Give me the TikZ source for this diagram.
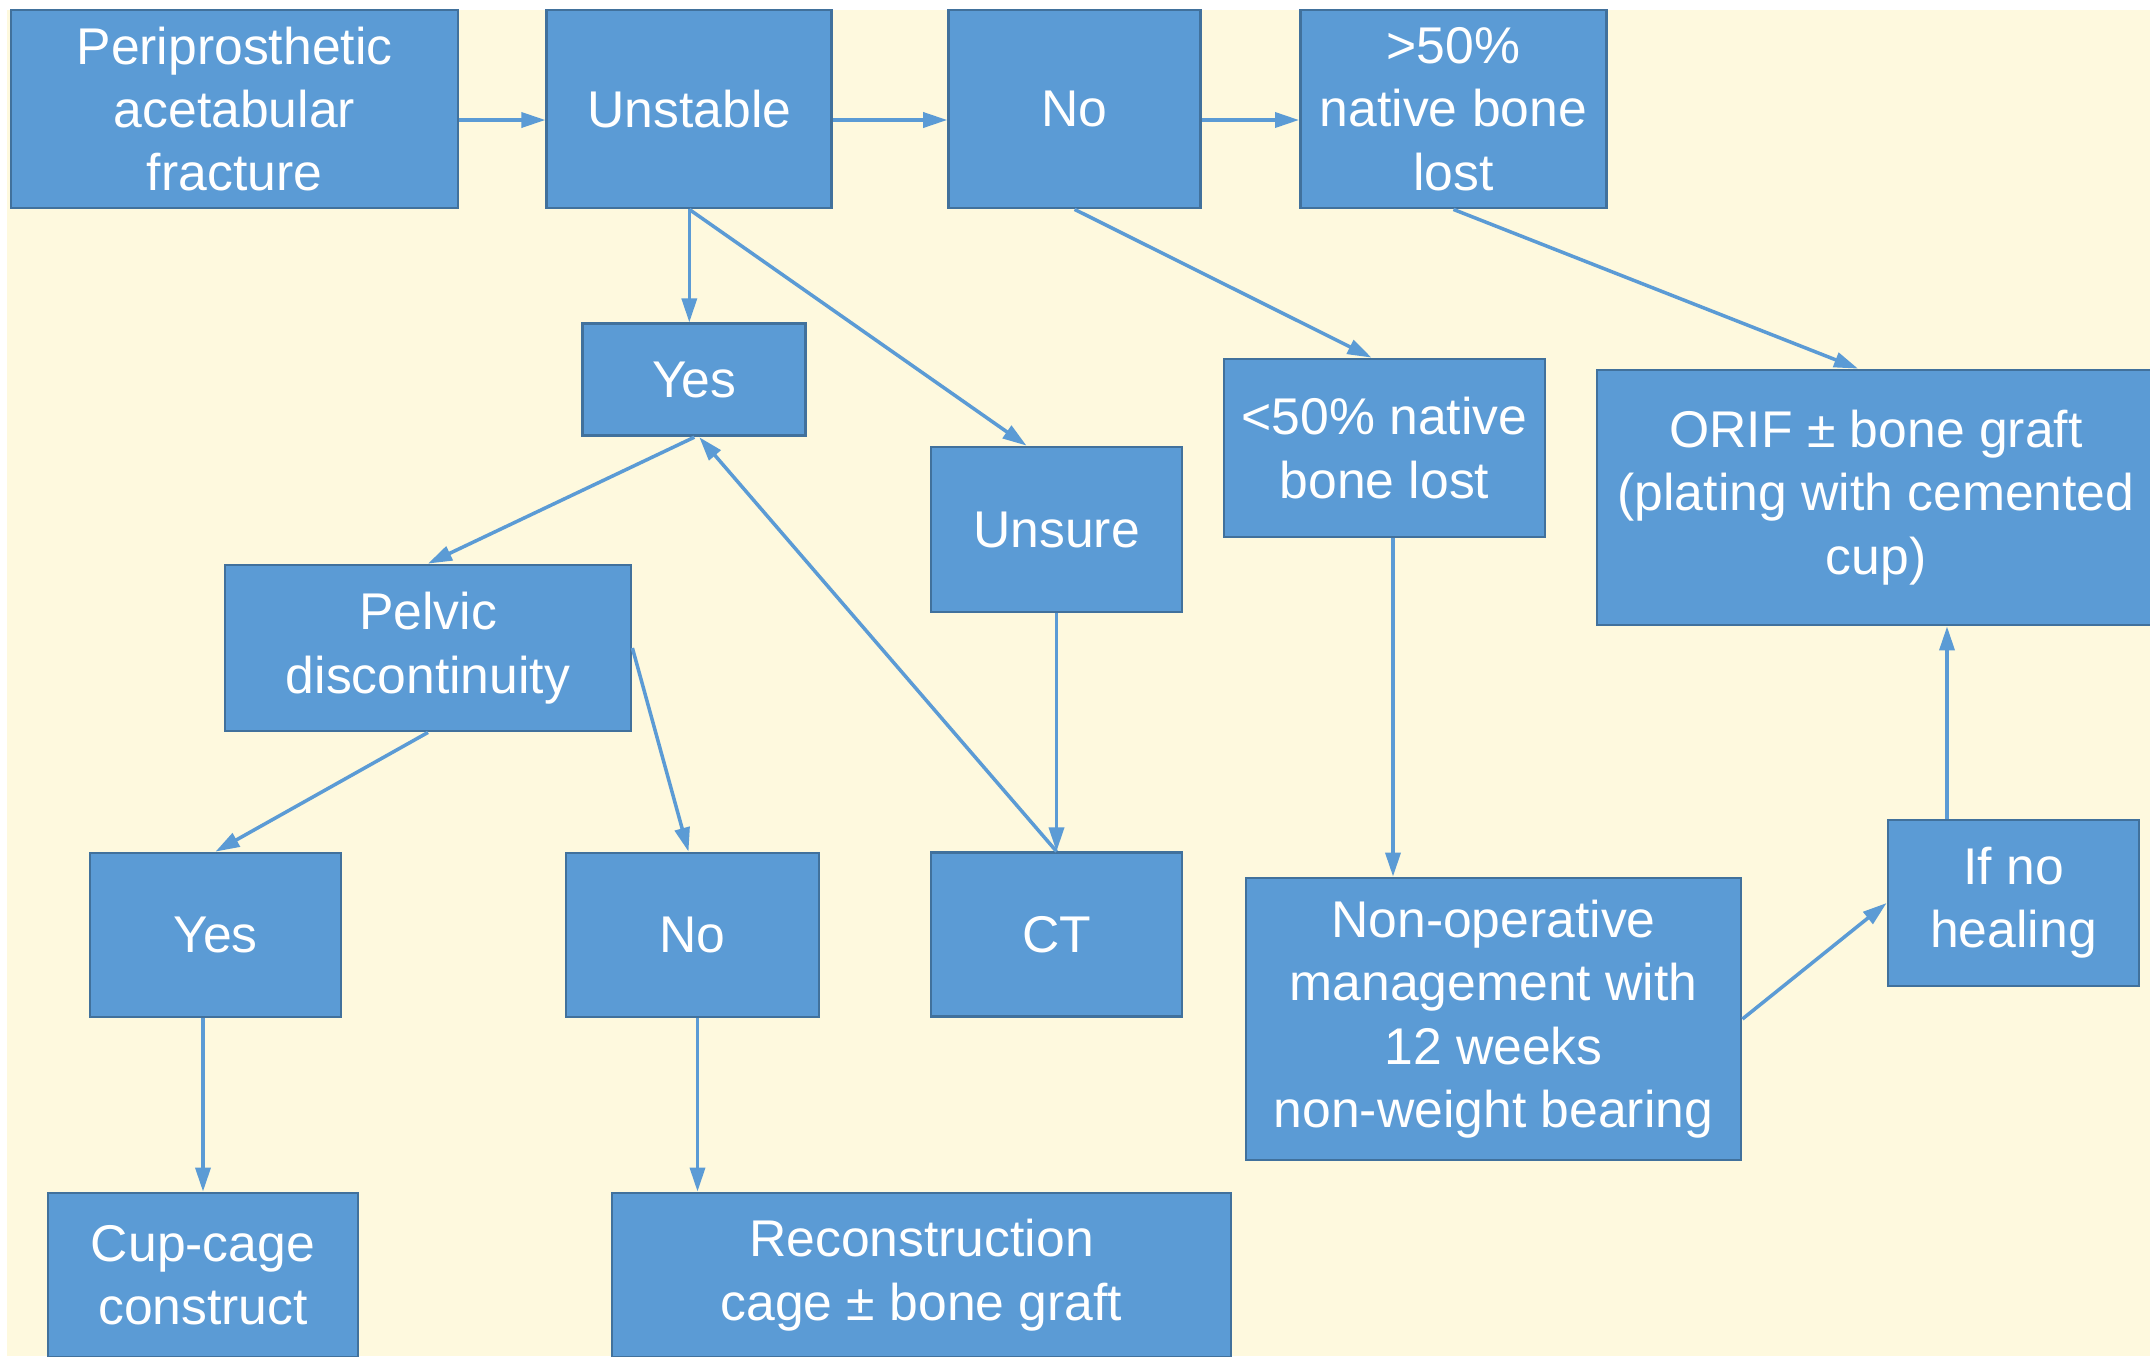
\documentclass[tikz,border=0pt]{standalone}
\usepackage{fontspec}
\setmainfont{Liberation Sans}
\usetikzlibrary{arrows.meta, positioning}
\definecolor{boxblue}{RGB}{91, 155, 213}
\definecolor{boxedge}{RGB}{65, 113, 156}
\definecolor{creambg}{RGB}{254, 249, 222}

\begin{document}
\begin{tikzpicture}[
  stage/.style={draw=boxedge, fill=boxblue, line width=0.8pt, text=white,
                align=center, inner sep=2pt, font=\fontsize{14.7}{18}\selectfont},
  flow/.style={-{Triangle[length=0.24cm, width=0.15cm]}, line width=1pt,
               color=boxblue}
]
  \useasboundingbox (0,0) rectangle (21.5,-13.56);
  \clip (0,0) rectangle (21.5,-13.56);
  \fill[white] (0,0) rectangle (21.5,-13.56);
  \fill[creambg] (0.07,-0.10) rectangle (21.5,-13.56);

  % top row
  \node[stage, minimum width=4.47cm, minimum height=1.98cm] (peri) at (2.345,-1.09)
    {Periprosthetic\\acetabular\\fracture};
  \node[stage, minimum width=2.85cm, minimum height=1.98cm, right=0.86cm of peri] (unstable)
    {Unstable};
  \node[stage, minimum width=2.52cm, minimum height=1.98cm, right=1.14cm of unstable] (no)
    {No};
  \node[stage, minimum width=3.06cm, minimum height=1.98cm, right=0.97cm of no] (more)
    {>50\%\\native bone\\lost};

  % second level
  \node[stage, minimum width=2.23cm, minimum height=1.12cm, below=1.13cm of unstable,
        xshift=0.05cm] (yesA) {Yes};
  \node[stage, minimum width=2.51cm, minimum height=1.65cm] (unsure) at (10.565,-5.295)
    {Unsure};
  \node[stage, minimum width=3.21cm, minimum height=1.78cm] (less) at (13.845,-4.48)
    {<50\% native\\bone lost};
  \node[stage, minimum width=5.58cm, minimum height=2.55cm] (orif) at (18.76,-4.975)
    {ORIF ± bone graft\\(plating with cemented\\cup)};
  \node[stage, minimum width=4.06cm, minimum height=1.66cm] (pelvic) at (4.28,-6.48)
    {Pelvic\\discontinuity};

  % third level
  \node[stage, minimum width=2.51cm, minimum height=1.64cm] (yesB) at (2.155,-9.35) {Yes};
  \node[stage, minimum width=2.53cm, minimum height=1.64cm] (noB) at (6.925,-9.35) {No};
  \node[stage, minimum width=2.51cm, minimum height=1.64cm, below=2.38cm of unsure] (ct) {CT};
  \node[stage, minimum width=4.95cm, minimum height=2.82cm] (nonop) at (14.935,-10.19)
    {Non-operative\\management with\\12 weeks\\non-weight bearing};
  \node[stage, minimum width=2.51cm, minimum height=1.66cm] (heal) at (20.135,-9.03)
    {If no\\healing};

  % bottom row
  \node[stage, minimum width=3.10cm, minimum height=1.64cm] (cup) at (2.03,-12.75)
    {Cup-cage\\construct};
  \node[stage, minimum width=6.19cm, minimum height=1.64cm] (recon) at (9.215,-12.75)
    {Reconstruction\\cage ± bone graft};

  % connectors
  \draw[flow] ([yshift=-0.11cm]peri.east) -- ([yshift=-0.11cm]unstable.west);
  \draw[flow] ([yshift=-0.11cm]unstable.east) -- ([yshift=-0.11cm]no.west);
  \draw[flow] ([yshift=-0.11cm]no.east) -- ([yshift=-0.11cm]more.west);

  \draw[flow] (unstable.south) -- (unstable.south |- yesA.north);
  \draw[flow] (unstable.south) -- ([xshift=-0.3cm]unsure.north);
  \draw[flow] (no.south) -- ([xshift=-0.13cm]less.north);
  \draw[flow] (more.south) -- ([xshift=-0.18cm]orif.north);

  \draw[flow] (yesA.south) -- (pelvic.north);
  \draw[flow] (ct.north) -- ([xshift=0.05cm]yesA.south);
  \draw[flow] (unsure.south) -- (ct.north);

  \draw[flow] (pelvic.south) -- (yesB.north);
  \draw[flow] (pelvic.east) -- ([xshift=-0.04cm]noB.north);
  \draw[flow] (cup.north |- yesB.south) -- (cup.north);
  \draw[flow] ([xshift=0.05cm]noB.south) -- ([xshift=0.05cm]noB.south |- recon.north);

  \draw[flow] ([xshift=0.085cm]less.south) -- ([xshift=0.085cm]less.south |- nonop.north);
  \draw[flow] (nonop.east) -- (heal.west);
  \draw[flow] ([xshift=-0.665cm]heal.north) -- ([xshift=-0.665cm]heal.north |- orif.south);
\end{tikzpicture}
\end{document}
